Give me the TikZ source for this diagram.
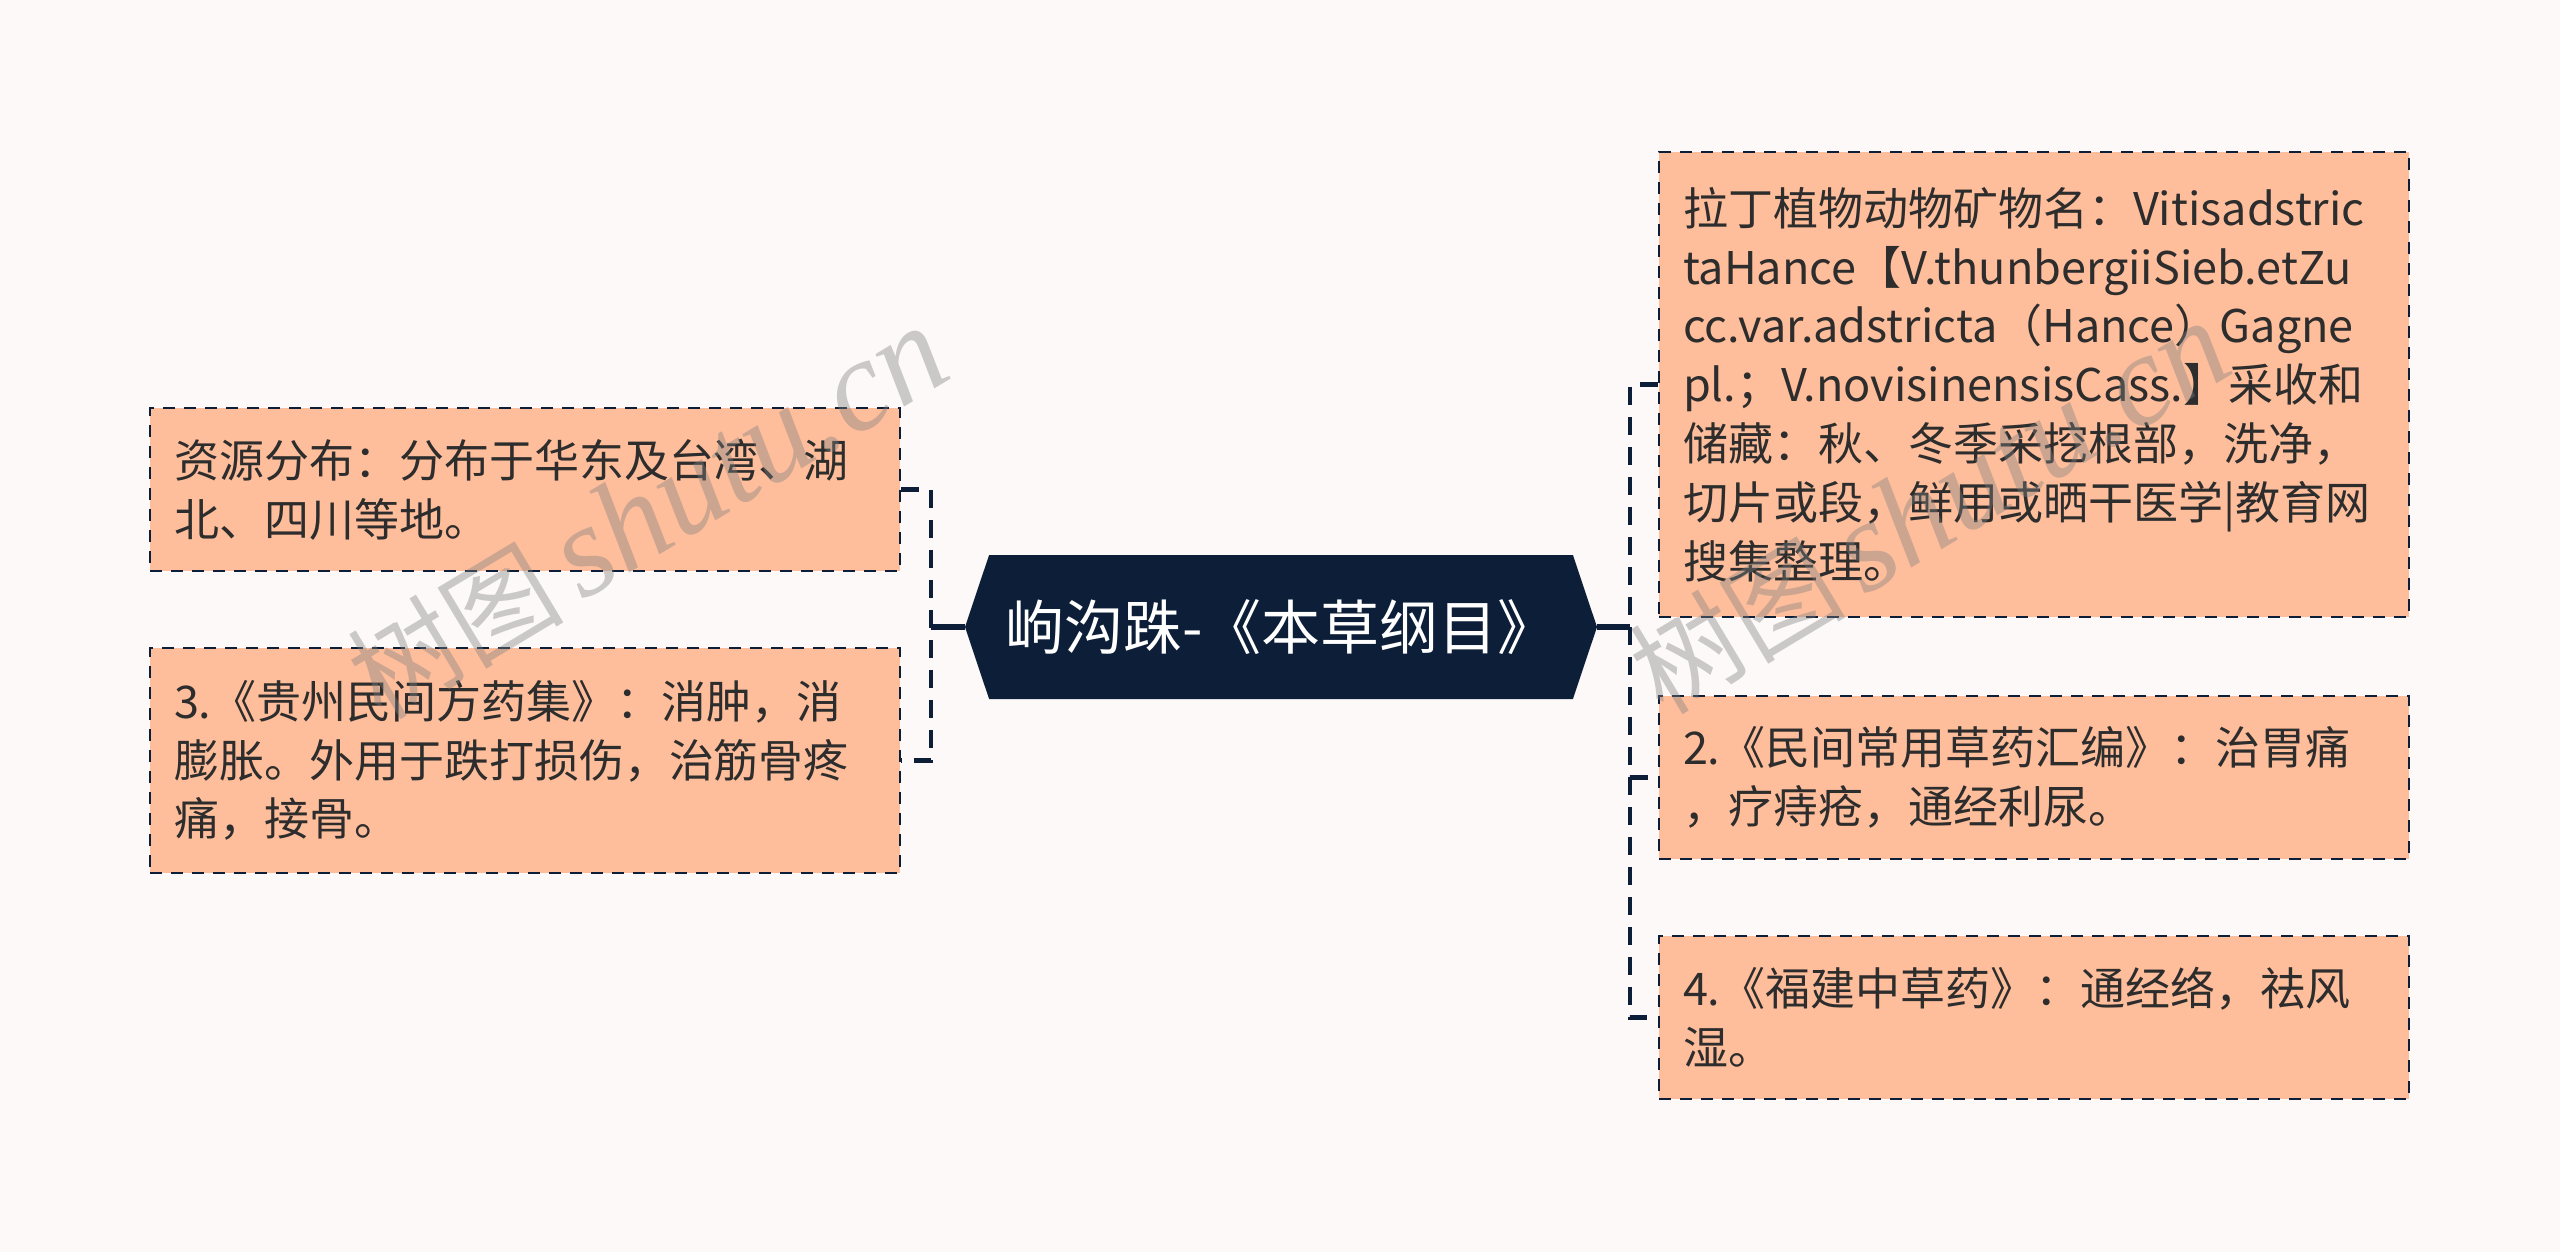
\documentclass[tikz,border=0pt]{standalone}
\usepackage{fontspec}
\setmainfont{Noto Sans CJK SC}
\newfontfamily\wmserif{Liberation Serif}
\usetikzlibrary{shapes.symbols}
\definecolor{bgcol}{RGB}{253,249,248}
\definecolor{peach}{RGB}{255,190,155}
\definecolor{navy}{RGB}{13,31,56}
\definecolor{txtcol}{RGB}{45,45,45}
\tikzset{
  leaf/.style={draw=navy, line width=1.3pt, dash pattern=on 6pt off 4.5pt, fill=peach,
    text=txtcol, minimum width=375pt, text width=351pt, align=left,
    font=\fontsize{22.5}{29.4}\selectfont},
  rootbox/.style={signal, signal to=west and east, signal pointer angle=143, fill=navy,
    text=white, minimum width=316pt, minimum height=72pt, inner sep=0pt,
    font=\fontsize{29.5}{34}\selectfont},
  link/.style={navy, line width=2.2pt, dash pattern=on 9pt off 6pt},
  stem/.style={navy, line width=2.6pt},
  wmark/.style={gray, opacity=0.4, rotate=31}
}
\begin{document}
\begin{tikzpicture}[x=0.5pt,y=-0.5pt]
  \fill[bgcol] (0,0) rectangle (2560,1252);
  \useasboundingbox (0,0) rectangle (2560,1252);

  % centre topic
  \node[rootbox] (c) at (1281,627) {岣沟跦-《本草纲目》};

  % left side
  \node[leaf, minimum height=81.5pt] (res) at (525,489.5)
    {资源分布：分布于华东及台湾、湖\\北、四川等地。};
  \node[leaf, minimum height=112.5pt] (gz) at (525,760.5)
    {3.《贵州民间方药集》：消肿，消\\膨胀。外用于跌打损伤，治筋骨疼\\痛，接骨。};

  % right side
  \node[leaf, minimum height=232.5pt] (lat) at (2034,384.5)
    {拉丁植物动物矿物名：Vitisadstric\\taHance【V.thunbergiiSieb.etZu\\cc.var.adstricta（Hance）Gagne\\pl.；V.novisinensisCass.】采收和\\储藏：秋、冬季采挖根部，洗净，\\切片或段，鲜用或晒干医学|教育网\\搜集整理。};
  \node[leaf, minimum height=81.5pt] (mj) at (2034,777.5)
    {2.《民间常用草药汇编》：治胃痛\\，疗痔疮，通经利尿。};
  \node[leaf, minimum height=81.5pt] (fj) at (2034,1017.5)
    {4.《福建中草药》：通经络，祛风\\湿。};

  \coordinate (jl) at (931,627);
  \coordinate (jr) at (1630,627);

  \draw[stem] (c.west) -- (jl);
  \draw[stem] (c.east) -- (jr);
  \draw[link] (res.east) -| (jl) |- (gz.east);
  \draw[link] (lat.west) -| (jr) |- (fj.west);
  \draw[link] (jr) |- (mj.west);

  % watermark
  \node[wmark] (wm1) at (648,514) {\fontsize{54}{54}\selectfont 树图\,\wmserif\itshape\fontsize{65}{65}\selectfont shutu.cn};
  \node[wmark] (wm2) at (1930,509) {\fontsize{54}{54}\selectfont 树图\,\wmserif\itshape\fontsize{65}{65}\selectfont shutu.cn};
\end{tikzpicture}
\end{document}
